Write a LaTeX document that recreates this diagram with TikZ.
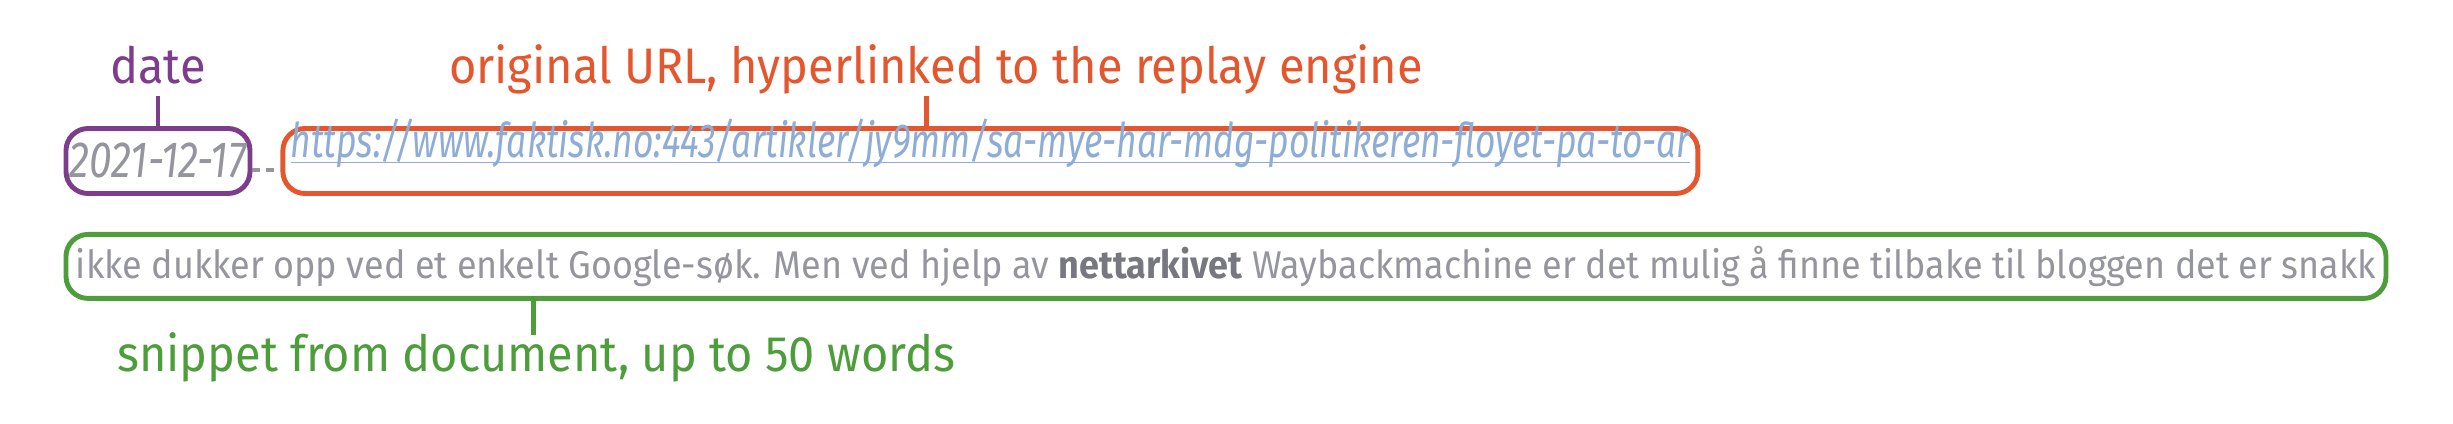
\documentclass[tikz,border=0pt]{standalone}
\usepackage{fontspec}
\setmainfont{Fira Sans}
\newfontfamily\labelfont[FakeStretch=0.94]{Fira Sans}
\newfontfamily\snipfont[FakeStretch=0.93]{Fira Sans}
\newfontfamily\linkfont[FakeStretch=0.74]{Fira Sans}
\newfontfamily\datefont[FakeStretch=0.8]{Fira Sans}
\usepackage{xcolor}
\usetikzlibrary{positioning}
\definecolor{datecol}{HTML}{7D3C8C}
\definecolor{urlcol}{HTML}{E4572E}
\definecolor{snipcol}{HTML}{4D9E3A}
\definecolor{textgray}{HTML}{95959D}
\definecolor{darkgray}{HTML}{77777F}
\definecolor{linkblue}{HTML}{8EADD6}
\newcommand{\linkline}[1]{\underline{\smash{#1}}}

\begin{document}
\begin{tikzpicture}[
    x=0.1mm, y=-0.1mm,
    box/.style={rectangle, draw=#1, line width=1.4pt, rounded corners=2.2mm, minimum height=6.5mm, inner sep=0pt},
    lbl/.style={text=#1, inner sep=0pt, text height=3.6mm, text depth=1.2mm, font=\labelfont\fontsize{14.2}{16}\selectfont},
    tick/.style={draw=#1, line width=1.4pt},
    link/.style={draw=textgray, line width=1pt, dash pattern=on 0.8mm off 0.6mm},
]
    \useasboundingbox (0,0) rectangle (2453,424);

    % Date
    \node[box=datecol, minimum width=18.4mm, text=textgray, font=\datefont\itshape\fontsize{14.5}{16}\selectfont] (date) at (158,161) {2021-12-17};
    \node[lbl=datecol, above=3mm of date] (datelbl) {date};
    \draw[tick=datecol] (datelbl) -- (date);

    % Original URL
    \node[box=urlcol, minimum width=141.5mm, right=2.8mm of date, text=linkblue, font=\linkfont\itshape\fontsize{13.6}{15}\selectfont] (url) {\linkline{https://www.faktisk.no:443/artikler/jy9mm/sa-mye-har-mdg-politikeren-floyet-pa-to-ar}};
    \node[lbl=urlcol, above right=3mm and 16.8mm of url.north west] (urllbl) {original URL, hyperlinked to the replay engine};
    \draw[tick=urlcol] ([xshift=-6.35mm]url.north) -- ([xshift=-6.35mm]url.north |- urllbl.south);
    \draw[link] ([yshift=-0.9mm]date.east) -- ([yshift=-0.9mm]url.west);

    % Snippet
    \node[box=snipcol, minimum width=232mm, minimum height=6.4mm, below right=3.6mm and 0mm of date.south west, text=textgray, font=\snipfont\fontsize{11}{13}\selectfont] (snip) {ikke dukker opp ved et enkelt Google-søk. Men ved hjelp av {\color{darkgray}\bfseries nettarkivet} Waybackmachine er det mulig å finne tilbake til bloggen det er snakk};
    \node[lbl=snipcol, below right=3.4mm and 5.3mm of snip.south west] (sniplbl) {snippet from document, up to 50 words};
    \draw[tick=snipcol] ([xshift=47mm]snip.south west) -- ([xshift=47mm]snip.south west |- sniplbl.north);
\end{tikzpicture}
\end{document}
